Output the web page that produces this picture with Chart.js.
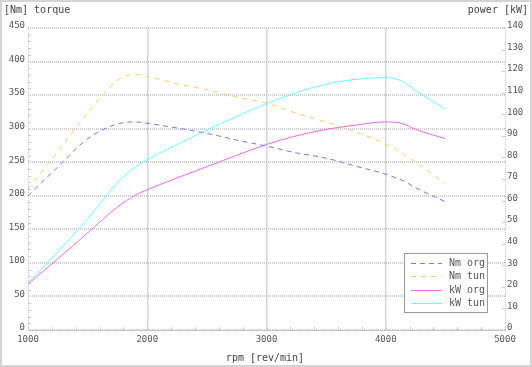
<!DOCTYPE html>
<html>
<head>
<meta charset="utf-8">
<script src="https://cdn.jsdelivr.net/npm/chart.js@4"></script>
<style>
  html, body { margin: 0; padding: 0; background: #fff; }
  #wrap { width: 532px; height: 367px; position: relative; }
</style>
</head>
<body>
<div id="wrap"><canvas id="dyno" width="532" height="367"></canvas></div>
<script>
// engine speed (rpm) shared by all curves
const rpm = [1000, 1250, 1500, 1750, 1900, 2000, 2250, 2500, 2750, 3000, 3250, 3500, 3750, 4000, 4150, 4250, 4500];
// torque, Nm
const nmOrg = [200, 243, 285, 307, 310, 308, 301, 293, 283, 274, 264, 256, 244, 232, 222, 212, 191];
const nmTun = [210, 266, 323, 372, 381, 378, 367, 358, 347, 338, 323, 310, 295, 277, 262, 250, 218];
// power, kW
const kwOrg = [21.3, 33, 45, 57, 62.5, 65, 70.5, 75.7, 81, 86, 90, 93, 95, 96.5, 95.5, 93, 88.7];
const kwTun = [21.8, 36.3, 51.5, 68.2, 75.6, 79, 86, 92.7, 99, 105, 110, 114, 116.2, 117, 115, 111, 102.5];

const xTicks = [1000, 2000, 3000, 4000, 5000];
const FONT = 'DejaVu Sans Mono';
const GRID = '#d6d6d6';

const pts = vals => vals.map((v, i) => ({ x: rpm[i], y: v }));

// titles, frame, minor ticks, dotted side edges and the legend box
const decor = {
  id: 'decor',
  beforeDraw(chart) {
    const c = chart.ctx;
    c.save();
    c.fillStyle = '#fff';
    c.fillRect(0, 0, chart.width, chart.height);
    c.restore();
  },
  afterDraw(chart) {
    const c = chart.ctx;
    const a = chart.chartArea;
    const sx = chart.scales.x, sy = chart.scales.y, sy1 = chart.scales.y1;
    c.save();

    // outer frame
    c.strokeStyle = '#d4d4d4';
    c.lineWidth = 2;
    c.strokeRect(1, 1, chart.width - 2, chart.height - 2);

    // dotted left / right edges
    c.strokeStyle = '#c4c4c4';
    c.lineWidth = 1;
    c.setLineDash([1, 1]);
    [a.left + 0.5, a.right + 0.5].forEach(xx => {
      c.beginPath();
      c.moveTo(xx, a.top);
      c.lineTo(xx, a.bottom);
      c.stroke();
    });
    c.setLineDash([]);

    // minor ticks
    c.strokeStyle = '#c8c8c8';
    for (let v = 0; v <= 450; v += 10) {
      if (v % 50 === 0) continue;
      const py = Math.round(sy.getPixelForValue(v)) + 0.5;
      c.beginPath(); c.moveTo(a.left, py); c.lineTo(a.left + 3, py); c.stroke();
    }
    for (let v = 0; v <= 140; v += 10) {
      const py = Math.round(sy1.getPixelForValue(v)) + 0.5;
      c.beginPath(); c.moveTo(a.right - 3, py); c.lineTo(a.right, py); c.stroke();
    }
    for (let v = 1000; v <= 5000; v += 200) {
      const px = Math.round(sx.getPixelForValue(v)) + 0.5;
      c.beginPath(); c.moveTo(px, a.bottom); c.lineTo(px, a.bottom - 3); c.stroke();
    }

    // titles
    c.fillStyle = '#444';
    c.font = '10px "' + FONT + '"';
    c.textBaseline = 'middle';
    c.textAlign = 'left';
    c.fillText('[Nm] torque', 4, 10);
    c.textAlign = 'right';
    c.fillText('power [kW]', 528, 10);
    c.textAlign = 'center';
    c.fillText('rpm [rev/min]', 265, 358);

    // legend
    const lx = 404, ly = 253, lw = 83, lh = 59;
    c.fillStyle = '#fff';
    c.fillRect(lx, ly, lw, lh);
    c.strokeStyle = '#999';
    c.lineWidth = 1;
    c.strokeRect(lx + 0.5, ly + 0.5, lw, lh);
    chart.data.datasets.forEach((ds, i) => {
      const yy = Math.round(ly + 9.5 + i * 13.5) + 0.5;
      c.strokeStyle = ds.borderColor;
      c.lineWidth = 1;
      c.setLineDash(ds.borderDash || []);
      c.beginPath(); c.moveTo(411, yy); c.lineTo(442, yy); c.stroke();
      c.setLineDash([]);
      c.fillStyle = '#555';
      c.textAlign = 'left';
      c.fillText(ds.label, 449, yy);
    });
    c.restore();
  }
};

new Chart(document.getElementById('dyno'), {
  type: 'line',
  data: {
    datasets: [
      { label: 'Nm org', data: pts(nmOrg), yAxisID: 'y', borderColor: '#7777ee', borderDash: [5, 4] },
      { label: 'Nm tun', data: pts(nmTun), yAxisID: 'y', borderColor: '#ffcc66', borderDash: [5, 5] },
      { label: 'kW org', data: pts(kwOrg), yAxisID: 'y1', borderColor: '#ee66ee' },
      { label: 'kW tun', data: pts(kwTun), yAxisID: 'y1', borderColor: '#66ffff' }
    ].map(d => Object.assign(d, { borderWidth: 1, pointRadius: 0, fill: false, cubicInterpolationMode: 'monotone' }))
  },
  options: {
    responsive: false,
    animation: false,
    layout: { padding: { top: 28, left: 0, right: 0, bottom: 0 } },
    plugins: { legend: { display: false }, tooltip: { enabled: false } },
    scales: {
      x: {
        type: 'linear',
        min: 1000,
        max: 5000,
        afterBuildTicks: s => { s.ticks = xTicks.map(v => ({ value: v })); },
        afterFit: s => { s.height = 37; },
        grid: {
          color: ctx => (ctx.tick && (ctx.tick.value === 1000 || ctx.tick.value === 5000)) ? 'rgba(0,0,0,0)' : GRID,
          lineWidth: 1.5,
          drawTicks: false
        },
        border: { display: true, color: '#c4c4c4', width: 1, dash: [] },
        ticks: { padding: 4, color: '#555', font: { family: FONT, size: 9 }, maxRotation: 0, callback: v => String(v) }
      },
      y: {
        position: 'left',
        min: 0,
        max: 450,
        afterFit: s => { s.width = 28; },
        grid: { color: '#cccccc', lineWidth: 2, drawTicks: false },
        border: { display: false, dash: [1, 1] },
        ticks: { stepSize: 50, padding: 3, labelOffset: -2, color: '#555', font: { family: FONT, size: 9 } }
      },
      y1: {
        position: 'right',
        min: 0,
        max: 140,
        afterFit: s => { s.width = 27; },
        grid: { display: false, drawTicks: false },
        border: { display: false },
        ticks: { stepSize: 10, padding: 2, labelOffset: -2, color: '#555', font: { family: FONT, size: 9 } }
      }
    }
  },
  plugins: [decor]
});
</script>
</body>
</html>
